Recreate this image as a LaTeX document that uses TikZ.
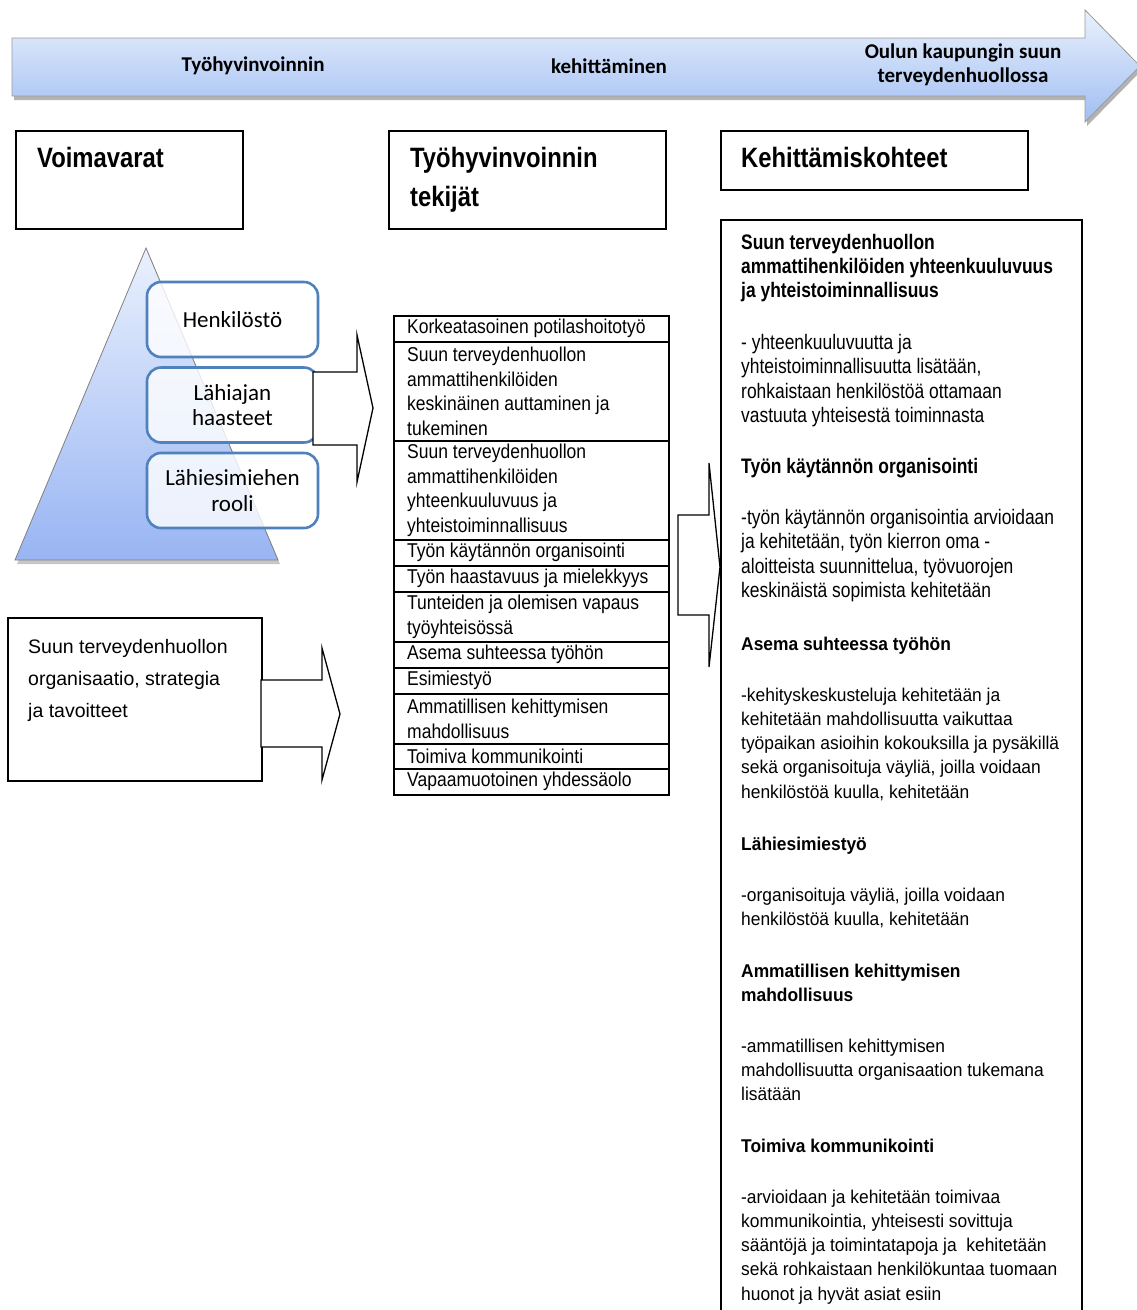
\documentclass[tikz,border=0pt]{standalone}
\usepackage{fontspec}
\setmainfont{Liberation Sans}
\newfontfamily\calibfont{Carlito}
\newfontfamily\arNarrow[FakeStretch=0.83]{Liberation Sans}
\newfontfamily\arMid[FakeStretch=0.875]{Liberation Sans}
\newfontfamily\arWide[FakeStretch=0.94]{Liberation Sans}
\newfontfamily\arHead[FakeStretch=0.85]{Liberation Sans}
\definecolor{bxblue}{RGB}{79,129,189}
\definecolor{gradtop}{RGB}{234,241,253}
\definecolor{gradbot}{RGB}{160,190,242}
\tikzset{
  frame/.style={draw=black, line width=1.6pt, fill=white, inner sep=0pt, anchor=north west},
  listrow/.style={draw=black, line width=1.6pt, inner sep=0pt, anchor=north west, minimum width=275pt},
  pyrbox/.style={draw=bxblue, line width=2.6pt, rounded corners=14pt, fill=white, fill opacity=0.8, text opacity=1, minimum width=171pt, minimum height=75pt, inner sep=0pt, align=center, text=black, font=\calibfont\fontsize{23}{25.5}\selectfont},
  blockarrow/.style={draw=black, line width=1.3pt, fill=white, line join=miter},
  hdrtext/.style={anchor=base west, inner sep=0pt, align=left, font=\arHead\bfseries\fontsize{28}{39}\selectfont},
  listtext/.style={anchor=west, inner sep=0pt, align=left, xshift=14pt, font=\arMid\fontsize{20}{24.5}\selectfont},
  ntext/.style={anchor=base west, inner sep=0pt, align=left, font=\arNarrow\fontsize{21}{24.4}\selectfont},
  nbold/.style={ntext, font=\arNarrow\bfseries\fontsize{21}{24.4}\selectfont},
  wtext/.style={anchor=base west, inner sep=0pt, align=left, font=\arWide\fontsize{18.5}{24.3}\selectfont},
  wbold/.style={wtext, font=\arWide\bfseries\fontsize{18.5}{24.3}\selectfont},
  bandtext/.style={inner sep=0pt, align=center, font=\calibfont\bfseries\fontsize{21}{24}\selectfont},
}
\begin{document}
\begin{tikzpicture}[x=1pt,y=-1pt]
\useasboundingbox[fill=white] (0,0) rectangle (1136,1310);

% ---- top band arrow ----
\fill[black, opacity=0.3, shift={(2,4)}] (12,38) -- (1085,38) -- (1085,10) -- (1140,66) -- (1085,122) -- (1085,96) -- (12,96) -- cycle;
\shade[top color=gradtop, bottom color=gradbot, draw=black!40, line width=0.8pt] (12,38) -- (1085,38) -- (1085,10) -- (1140,66) -- (1085,122) -- (1085,96) -- (12,96) -- cycle;
\node[bandtext] (b1) at (253,66) {Työhyvinvoinnin};
\node[bandtext] (b2) at (609,66) {kehittäminen};
\node[bandtext] (b3) at (963,65) {Oulun kaupungin suun\\terveydenhuollossa};

% ---- headers ----
\node[frame, minimum width=227pt, minimum height=98pt] (hv) at (15,130) {};
\node[hdrtext] (hvt) at (37,167) {Voimavarat};
\node[frame, minimum width=277pt, minimum height=98pt] (ht) at (388,130) {};
\node[hdrtext] (htt) at (410,206) {Työhyvinvoinnin\\tekijät};
\node[frame, minimum width=307pt, minimum height=59pt] (hk) at (720,130) {};
\node[hdrtext] (hkt) at (741,167) {Kehittämiskohteet};

% ---- pyramid ----
\fill[black, opacity=0.22, shift={(2,4)}] (146,248) -- (278,560) -- (15,560) -- cycle;
\shade[top color=gradtop, bottom color=gradbot!95!blue, draw=black!50, line width=0.8pt] (146,248) -- (278,560) -- (15,560) -- cycle;
\node[pyrbox] (p1) at (232.5,319.5) {Henkilöstö};
\node[pyrbox] (p2) at (232.5,405) {Lähiajan\\haasteet};
\node[pyrbox] (p3) at (232.5,490.5) {Lähiesimiehen\\rooli};

% arrow pyramid -> list
\draw[blockarrow] (313,372) -- (357,372) -- (357,335) -- (373,408) -- (357,482) -- (357,445) -- (313,445) -- cycle;

% ---- organisation box ----
\node[frame, minimum width=254pt, minimum height=163pt] (org) at (7,617) {};
\node[anchor=base west, inner sep=0pt, align=left, font=\fontsize{19.5}{32}\selectfont] (orgt) at (28,717) {Suun terveydenhuollon\\organisaatio, strategia\\ja tavoitteet};
\draw[blockarrow] (261,680) -- (322,680) -- (322,648) -- (340,714) -- (322,780) -- (322,747) -- (261,747) -- cycle;

% ---- middle list ----
\node[listrow, minimum height=26pt] (r1) at (393,315) {};
\node[listrow, minimum height=99pt] (r2) at (393,341) {};
\node[listrow, minimum height=99pt] (r3) at (393,440) {};
\node[listrow, minimum height=26pt] (r4) at (393,539) {};
\node[listrow, minimum height=26pt] (r5) at (393,565) {};
\node[listrow, minimum height=50pt] (r6) at (393,591) {};
\node[listrow, minimum height=26pt] (r7) at (393,641) {};
\node[listrow, minimum height=26pt] (r8) at (393,667) {};
\node[listrow, minimum height=50pt] (r9) at (393,693) {};
\node[listrow, minimum height=25pt] (r10) at (393,743) {};
\node[listrow, minimum height=26pt] (r11) at (393,768) {};
\node[listtext] (t1) at (r1.west) {Korkeatasoinen potilashoitotyö};
\node[listtext] (t2) at (r2.west) {Suun terveydenhuollon\\ammattihenkilöiden\\keskinäinen auttaminen ja\\tukeminen};
\node[listtext] (t3) at (r3.west) {Suun terveydenhuollon\\ammattihenkilöiden\\yhteenkuuluvuus ja\\yhteistoiminnallisuus};
\node[listtext] (t4) at (r4.west) {Työn käytännön organisointi};
\node[listtext] (t5) at (r5.west) {Työn haastavuus ja mielekkyys};
\node[listtext] (t6) at (r6.west) {Tunteiden ja olemisen vapaus\\työyhteisössä};
\node[listtext] (t7) at (r7.west) {Asema suhteessa työhön};
\node[listtext] (t8) at (r8.west) {Esimiestyö};
\node[listtext] (t9) at (r9.west) {Ammatillisen kehittymisen\\mahdollisuus};
\node[listtext] (t10) at (r10.west) {Toimiva kommunikointi};
\node[listtext] (t11) at (r11.west) {Vapaamuotoinen yhdessäolo};

% ---- right box ----
\node[frame, minimum width=361pt, minimum height=1100pt] (kb) at (720,219) {};
\draw[blockarrow] (678,515) -- (709,515) -- (709,463) -- (720,567) -- (709,667) -- (709,615) -- (678,615) -- cycle;

\node[nbold] (k1) at (741,297.8) {Suun terveydenhuollon\\ammattihenkilöiden yhteenkuuluvuus\\ja yhteistoiminnallisuus};
\node[ntext] (k2) at (741,422.7) {- yhteenkuuluvuutta ja\\yhteistoiminnallisuutta lisätään,\\rohkaistaan henkilöstöä ottamaan\\vastuuta yhteisestä toiminnasta};
\node[nbold] (k3) at (741,473) {Työn käytännön organisointi};
\node[ntext] (k4) at (741,597.7) {-työn käytännön organisointia arvioidaan\\ja kehitetään, työn kierron oma -\\aloitteista suunnittelua, työvuorojen\\keskinäistä sopimista kehitetään};
\node[wbold] (k5) at (741,650) {Asema suhteessa työhön};
\node[wtext] (k6) at (741,798.2) {-kehityskeskusteluja kehitetään ja\\kehitetään mahdollisuutta vaikuttaa\\työpaikan asioihin kokouksilla ja pysäkillä\\sekä organisoituja väyliä, joilla voidaan\\henkilöstöä kuulla, kehitetään};
\node[wbold] (k7) at (741,850) {Lähiesimiestyö};
\node[wtext] (k8) at (741,925.3) {-organisoituja väyliä, joilla voidaan\\henkilöstöä kuulla, kehitetään};
\node[wbold] (k9) at (741,1001.3) {Ammatillisen kehittymisen\\mahdollisuus};
\node[wtext] (k10) at (741,1100.6) {-ammatillisen kehittymisen\\mahdollisuutta organisaation tukemana\\lisätään};
\node[wbold] (k11) at (741,1152) {Toimiva kommunikointi};
\node[wtext] (k12) at (741,1300.2) {-arvioidaan ja kehitetään toimivaa\\kommunikointia, yhteisesti sovittuja\\sääntöjä ja toimintatapoja ja\ \ kehitetään\\sekä rohkaistaan henkilökuntaa tuomaan\\huonot ja hyvät asiat esiin};
\end{tikzpicture}
\end{document}
